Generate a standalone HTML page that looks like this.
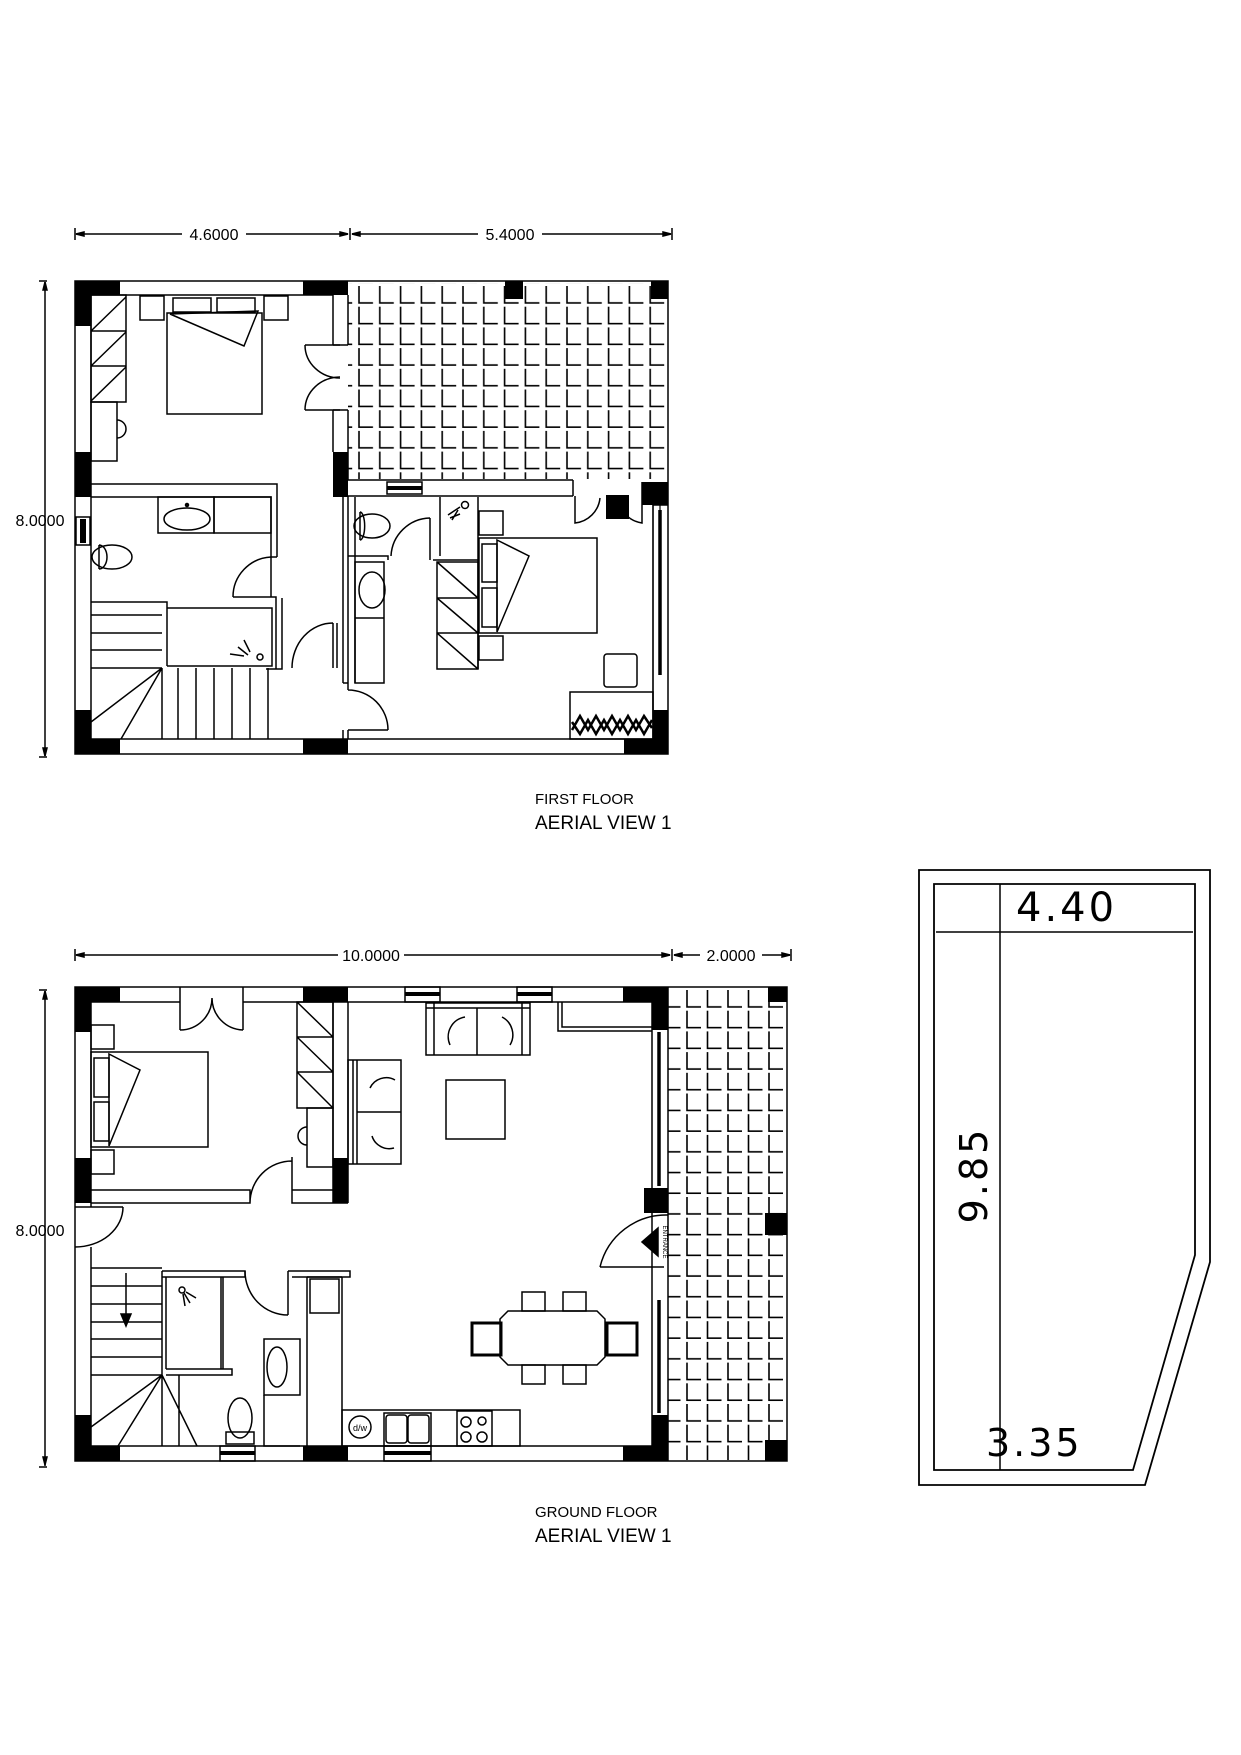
<!DOCTYPE html>
<html><head><meta charset="utf-8"><style>
html,body{margin:0;padding:0;background:#fff;}
svg{display:block;}
text{font-family:"Liberation Sans",sans-serif;fill:#000;}
</style></head><body>
<svg width="1241" height="1755" viewBox="0 0 1241 1755" xmlns="http://www.w3.org/2000/svg">
<defs>
<pattern id="t1" x="356" y="286" width="20.8" height="20.7" patternUnits="userSpaceOnUse">
<path d="M3 0 V17 H17" fill="none" stroke="#000" stroke-width="1.6"/></pattern>
<pattern id="t2" x="684" y="990" width="20.5" height="20.7" patternUnits="userSpaceOnUse">
<path d="M3 0 V17 H17" fill="none" stroke="#000" stroke-width="1.6"/></pattern>
</defs>
<g fill="none" stroke="#000" stroke-width="1.5">

<!-- ============ FIRST FLOOR ============ -->
<path d="M75 228 V240 M350 228 V240 M672 228 V240 M76 234 H182 M246 234 H348 M352 234 H478 M542 234 H671"/>
<path d="M39 281 H47 M39 757 H47 M45 282 V756"/>
<path d="M76 234 l8 -2 v4z M348 234 l-8 -2 v4z M352 234 l8 -2 v4z M671 234 l-8 -2 v4z M45 282 l-2 8 h4z M45 756 l-2 -8 h4z" fill="#000"/>

<rect x="348" y="283" width="318" height="196" fill="url(#t1)" stroke="none"/>
<rect x="75" y="281" width="593" height="473"/>
<path d="M91 295 H333 M91 295 V739 H653 V505 M653 505 H668"/>
<!-- central wall -->
<path d="M333 295 V345 M348 295 V345 M333 345 H348 M333 410 H348 M333 410 V452 M348 410 V480 M348 496 V683 M343 497 V683 M343 683 H348 M343 730 V739 M348 730 V739"/>
<!-- balcony wall -->
<path d="M348 480 H573 M348 496 H573 M573 480 V496"/>
<rect x="387" y="482" width="35" height="12" fill="#fff"/><path d="M387 488 H422" stroke-width="4"/>
<path d="M575 496 V523 A28 28 0 0 0 600 498 M642 482 V523 A28 28 0 0 1 618 498"/>
<path d="M653 505 V739 M660 505 V675" stroke-width="1.2"/><path d="M660 510 V675" stroke-width="3.5"/>
<!-- double doors left bedroom to balcony -->
<path d="M340 345 H305 M305 345 A35 33 0 0 0 340 378 M340 410 H305 M305 410 A35 33 0 0 1 340 377"/>
<!-- left bedroom -->
<rect x="91" y="295" width="35" height="107"/><path d="M91 331 h35 M91 366 h35 M91 331 L126 297 M91 366 L126 332 M91 401 L126 367"/>
<rect x="91" y="402" width="26" height="59"/><path d="M117 420 a9 9 0 0 1 0 18"/>
<rect x="140" y="296" width="24" height="24"/><rect x="264" y="296" width="24" height="24"/>
<rect x="173" y="298" width="38" height="14"/><rect x="217" y="298" width="38" height="14"/>
<rect x="167" y="313" width="95" height="101"/><path d="M170 314 L258 311 L244 346 Z"/>
<!-- bath 1 -->
<path d="M91 484 H277 V557 M91 497 H271 V557 M271 557 H277"/>
<rect x="158" y="497" width="56" height="36"/><rect x="214" y="497" width="57" height="36"/>
<ellipse cx="187" cy="519" rx="23" ry="11"/>
<circle cx="187" cy="505" r="1.5" fill="#000"/>
<path d="M99 545 a8 12 0 0 1 0 24 M99 545 V569"/>
<ellipse cx="112" cy="557" rx="20" ry="12"/>
<path d="M271 557 V597 M233 597 A40 40 0 0 1 271 557 M233 597 H276 V669"/>
<!-- tub -->
<path d="M91 602 H167 V666 M167 608 H272 V666 H167"/>
<path d="M248 655 l-10 -8 M250 652 l-6 -12 M244 656 l-14 -2"/><circle cx="260" cy="657" r="3"/>
<!-- stairs -->
<path d="M91 615 H162 M91 633 H162 M91 650 H162 M91 668 H162 M162 668 V739 M178 668 V739 M196 668 V739 M214 668 V739 M232 668 V739 M250 668 V739 M268 668 V739 M162 668 L91 722 M162 668 L121 739"/>
<path d="M266 669 H282 V598"/>
<!-- corridor door -->
<path d="M333 668 V623 M337 623 V668 M292 668 A41 45 0 0 1 333 623"/>
<path d="M348 683 V690 M348 690 A40 40 0 0 1 388 730 M348 730 H388"/>
<!-- right side bath -->
<path d="M355 497 V683 M348 556 H388 V560"/>
<path d="M360 512 a4 12 0 0 1 0 28 M360 512 V540"/><ellipse cx="372" cy="526" rx="18" ry="12"/>
<rect x="355" y="562" width="29" height="121"/><path d="M355 618 H384"/>
<ellipse cx="372" cy="590" rx="13" ry="18"/>
<path d="M430 518 V560 M391 556 A40 40 0 0 1 430 518"/>
<path d="M440 497 V556 M478 497 V669 M433 560 H478"/>
<path d="M448 515 l12 -8 M450 518 l10 -4 M452 520 l6 -10"/><circle cx="465" cy="505" r="3.5"/>
<rect x="437" y="562" width="41" height="107"/><path d="M437 598 h41 M437 633 h41 M437 562 L478 598 M437 598 L478 633 M437 633 L478 669"/>
<rect x="479" y="511" width="24" height="24"/><rect x="479" y="636" width="24" height="24"/>
<rect x="482" y="544" width="15" height="38"/><rect x="482" y="588" width="15" height="39"/>
<rect x="479" y="538" width="118" height="95"/><path d="M497 540 L529 556 L497 632 Z"/>
<rect x="604" y="654" width="33" height="33" rx="3"/>
<rect x="570" y="692" width="83" height="47"/>
<path d="M572 730 l8 -14 l8 14 l8 -14 l8 14 l8 -14 l8 14 l8 -14 l8 14 l8 -14 l8 12 M572 722 l8 12 l8 -14 l8 14 l8 -14 l8 14 l8 -14 l8 14 l8 -14 l8 14 l8 -14" stroke-width="2.5"/>
</g>
<g fill="#000">
<rect x="75" y="281" width="45" height="14"/><rect x="75" y="281" width="16" height="45"/>
<rect x="303" y="281" width="45" height="14"/>
<rect x="505" y="281" width="18" height="18"/>
<rect x="651" y="281" width="17" height="18"/>
<rect x="75" y="452" width="16" height="45"/>
<rect x="333" y="452" width="15" height="45"/>
<rect x="642" y="482" width="26" height="23"/>
<rect x="606" y="495" width="23" height="24"/>
<rect x="75" y="710" width="16" height="44"/><rect x="75" y="739" width="45" height="15"/>
<rect x="303" y="739" width="45" height="15"/>
<rect x="653" y="710" width="15" height="44"/><rect x="624" y="739" width="44" height="15"/>
<rect x="76" y="517" width="14" height="28" fill="#fff" stroke="#000" stroke-width="1.5"/>
<rect x="80" y="519" width="6" height="24"/>
</g>
<g font-size="16">
<text x="214" y="240" text-anchor="middle">4.6000</text>
<text x="510" y="240" text-anchor="middle">5.4000</text>
<text x="40" y="526" text-anchor="middle">8.0000</text>
<text x="535" y="804" font-size="15">FIRST FLOOR</text>
<text x="535" y="829" font-size="19">AERIAL  VIEW  1</text>
</g>

<!-- ============ GROUND FLOOR ============ -->
<g fill="none" stroke="#000" stroke-width="1.5">
<path d="M75 949 V961 M672 949 V961 M791 949 V961 M76 955 H338 M404 955 H670 M674 955 H700 M762 955 H790"/>
<path d="M76 955 l8 -2 v4z M670 955 l-8 -2 v4z M674 955 l8 -2 v4z M790 955 l-8 -2 v4z M45 991 l-2 8 h4z M45 1465 l-2 -8 h4z" fill="#000"/>
<path d="M39 990 H47 M39 1467 H47 M45 991 V1466"/>

<rect x="668" y="990" width="119" height="470" fill="url(#t2)" stroke="none"/>
<path d="M75 987 H787 V1461 H75 Z M668 987 V1461"/>
<path d="M91 1002 H180 M243 1002 H652 V1461 M91 1002 V1207 M91 1247 V1446 H652"/>
<path d="M180 987 V1030 M243 987 V1030 M180 1030 A32 32 0 0 0 212 998 M243 1030 A32 32 0 0 1 212 998"/>
<rect x="405" y="987" width="35" height="15"/><path d="M405 994 H440" stroke-width="4"/>
<rect x="517" y="987" width="35" height="15"/><path d="M517 994 H552" stroke-width="4"/>
<path d="M333 1002 V1203 M348 1002 V1203"/>
<rect x="297" y="1002" width="36" height="106"/><path d="M297 1037 h36 M297 1072 h36 M297 1002 L333 1037 M297 1037 L333 1072 M297 1072 L333 1108"/>
<rect x="307" y="1108" width="26" height="59"/><path d="M307 1127 a9 9 0 0 0 0 18"/>
<rect x="91" y="1025" width="23" height="24"/><rect x="91" y="1150" width="23" height="24"/>
<rect x="94" y="1058" width="15" height="39"/><rect x="94" y="1102" width="15" height="39"/>
<rect x="91" y="1052" width="117" height="95"/><path d="M109 1054 L140 1070 L109 1146 Z"/>
<path d="M91 1190 H250 V1203 H91 M292 1157 V1203 H348 M292 1190 H348 M250 1203 A42 42 0 0 1 292 1161"/>
<path d="M75 1207 H123 M123 1207 A48 40 0 0 1 75 1247"/>
<path d="M91 1268 H162 M91 1286 H162 M91 1304 H162 M91 1322 H162 M91 1339 H162 M91 1357 H162 M91 1375 H162 M162 1271 V1446 M179 1375 V1446 M162 1375 L91 1427 M162 1375 L118 1446 M162 1375 L197 1446"/>
<path d="M126 1273 V1322"/><path d="M121 1314 H131 L126 1326Z" fill="#000"/>
<path d="M162 1271 H245 V1277 H162 M166 1277 V1369 M221 1277 V1369 M223 1277 V1369 M166 1369 H232 V1375 H166"/>
<circle cx="182" cy="1290" r="3"/><path d="M184 1293 l6 10 M186 1292 l10 6 M183 1294 l2 12"/>
<path d="M288 1271 V1315 M245 1271 A43 44 0 0 0 288 1315 M288 1271 H350 V1277 H292"/>
<rect x="264" y="1339" width="36" height="56"/><path d="M264 1395 V1446 H300"/>
<ellipse cx="277" cy="1367" rx="10" ry="20"/>
<ellipse cx="240" cy="1418" rx="12" ry="20"/><rect x="226" y="1432" width="28" height="12"/>
<path d="M307 1277 V1446 M342 1277 V1446 M307 1277 H342"/>
<rect x="310" y="1279" width="29" height="34"/>
<rect x="342" y="1410" width="178" height="36"/>
<circle cx="360" cy="1427" r="11"/>
<rect x="384" y="1413" width="47" height="33"/><rect x="386" y="1415" width="21" height="28" rx="3"/><rect x="408" y="1415" width="21" height="28" rx="3"/>
<rect x="457" y="1411" width="35" height="35"/><circle cx="466" cy="1422" r="5"/><circle cx="482" cy="1421" r="4"/><circle cx="466" cy="1437" r="5"/><circle cx="482" cy="1437" r="5"/>
<rect x="384" y="1446" width="47" height="15"/><rect x="220" y="1446" width="35" height="15"/>
<path d="M384 1453 H431 M220 1453 H255" stroke-width="4"/>
<rect x="426" y="1003" width="104" height="52"/><path d="M434 1003 V1055 M522 1003 V1055 M426 1008 H530 M477 1008 V1055"/>
<path d="M450 1045 a20 20 0 0 1 15 -28 M510 1045 a20 20 0 0 0 -8 -28"/>
<rect x="348" y="1060" width="53" height="104"/><path d="M353 1060 V1164 M357 1060 V1164 M357 1112 H401"/>
<path d="M370 1088 a18 18 0 0 1 25 -8 M372 1136 a18 18 0 0 0 22 12"/>
<rect x="446" y="1080" width="59" height="59"/>
<path d="M558 1002 V1031 H652 M562 1002 V1027 H652"/>
<path d="M508 1311 H597 L605 1319 V1357 L597 1365 H508 L500 1357 V1319 Z"/>
<rect x="522" y="1292" width="23" height="19"/><rect x="563" y="1292" width="23" height="19"/>
<rect x="522" y="1365" width="23" height="19"/><rect x="563" y="1365" width="23" height="19"/>
<rect x="472" y="1323" width="29" height="32" stroke-width="3"/><rect x="607" y="1323" width="30" height="32" stroke-width="3"/>
<path d="M659 1032 V1186 M659 1300 V1413" stroke-width="3.5"/>
<path d="M600 1267 H664 M600 1267 A68 68 0 0 1 668 1215"/>
<path d="M642 1242 L658 1228 V1256 Z" fill="#000"/>
</g>
<g fill="#000">
<rect x="75" y="987" width="45" height="15"/><rect x="75" y="987" width="16" height="45"/>
<rect x="303" y="987" width="45" height="15"/>
<rect x="623" y="987" width="45" height="15"/><rect x="652" y="987" width="16" height="43"/>
<rect x="768" y="987" width="19" height="15"/>
<rect x="75" y="1158" width="16" height="45"/>
<rect x="333" y="1158" width="15" height="45"/>
<rect x="644" y="1188" width="24" height="25"/>
<rect x="765" y="1213" width="22" height="22"/>
<rect x="75" y="1415" width="16" height="46"/><rect x="75" y="1446" width="45" height="15"/>
<rect x="303" y="1446" width="45" height="15"/>
<rect x="652" y="1415" width="16" height="46"/><rect x="623" y="1446" width="45" height="15"/>
<rect x="765" y="1440" width="22" height="21"/>
</g>
<g font-size="16">
<text x="371" y="961" text-anchor="middle">10.0000</text>
<text x="731" y="961" text-anchor="middle">2.0000</text>
<text x="40" y="1236" text-anchor="middle">8.0000</text>
<text x="535" y="1517" font-size="15">GROUND FLOOR</text>
<text x="535" y="1542" font-size="19">AERIAL  VIEW  1</text>
<text x="663" y="1242" font-size="6" transform="rotate(90 663 1242)" text-anchor="middle">ENTRANCE</text>
<text x="360" y="1431" font-size="9" text-anchor="middle">d/w</text>
</g>

<!-- ============ POOL ============ -->
<g fill="none" stroke="#000" stroke-width="1.8">
<path d="M919 870 H1210 V1262 L1145 1485 H919 Z"/>
<path d="M934 884 H1195 V1255 L1133 1470 H934 Z"/>
<path d="M936 932 H1193 M1000 884 V1470" stroke-width="1.5"/>
</g>
<g style="letter-spacing:3px">
<text x="1016" y="921" style="font-family:'DejaVu Sans',sans-serif" font-size="40">4.40</text>
<text x="987" y="1175" text-anchor="middle" font-size="38" transform="rotate(-90 987 1175)" style="font-family:'DejaVu Sans',sans-serif">9.85</text>
<text x="986" y="1456" font-size="38" style="font-family:'DejaVu Sans',sans-serif">3.35</text>
</g>
</svg>
</body></html>
